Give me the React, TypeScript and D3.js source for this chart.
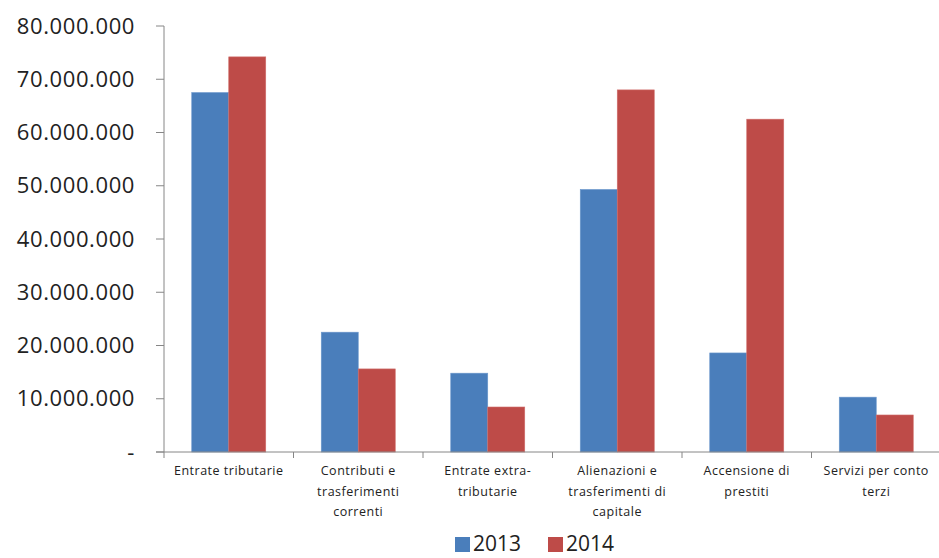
import React from "react";
import * as d3 from "d3";

const categories: string[][] = [
  ["Entrate tributarie"],
  ["Contributi e", "trasferimenti", "correnti"],
  ["Entrate extra-", "tributarie"],
  ["Alienazioni e", "trasferimenti di", "capitale"],
  ["Accensione di", "prestiti"],
  ["Servizi per conto", "terzi"],
];
const series2013: number[] = [67500000, 22500000, 14800000, 49300000, 18600000, 10300000];
const series2014: number[] = [74200000, 15600000, 8450000, 68000000, 62500000, 6950000];
const seriesNames: string[] = ["2013", "2014"];
const yTicks: number[] = [0, 10000000, 20000000, 30000000, 40000000, 50000000, 60000000, 70000000, 80000000];

const colors = ["#4A7EBB", "#BE4B48"];

export default function App() {
  const W = 939, H = 558;
  const left = 164, right = 941, top = 26, bottom = 452;
  const x = d3.scaleBand<number>().domain(d3.range(categories.length)).range([left, right]).paddingInner(0).paddingOuter(0);
  const y = d3.scaleLinear().domain([0, 80000000]).range([bottom, top]);
  const bw = x.bandwidth() / 3.5;
  const fmt = (v: number) => (v === 0 ? "-" : d3.format(",")(v).replace(/,/g, "."));
  const data = [series2013, series2014];
  const font = "'Open Sans', 'Liberation Sans', sans-serif";

  return (
    <svg width={W} height={H} style={{ position: "absolute", left: 0, top: 0, background: "#fff" }}>
      {data.map((s, si) =>
        s.map((v, i) => {
          const cx = (x(i) as number) + x.bandwidth() / 2;
          const x0 = cx - bw + si * bw;
          return (
            <rect key={`${si}-${i}`} x={x0} y={y(v)} width={bw} height={bottom - y(v)} fill={colors[si]} stroke={si === 0 ? "#6b97cc" : "#cf6d6a"} strokeWidth={0.6} />
          );
        })
      )}
      <line x1={left} x2={left} y1={top} y2={bottom} stroke="#868686" strokeWidth={1} />
      {yTicks.map((t) => (
        <g key={t}>
          <line x1={left - 8} x2={left} y1={y(t)} y2={y(t)} stroke="#868686" />
          <text x={135} y={y(t)} dy="0.35em" textAnchor="end" fontFamily={font} fontSize={22} letterSpacing={0.6} fill="#222">
            {fmt(t)}
          </text>
        </g>
      ))}
      <line x1={left - 8} x2={W} y1={bottom} y2={bottom} stroke="#868686" strokeWidth={1} />
      {categories.map((c, i) => (
        <g key={i}>
          <line x1={x(i) as number} x2={x(i) as number} y1={bottom} y2={bottom + 6} stroke="#868686" />
          {c.map((line, li) => (
            <text key={li} x={(x(i) as number) + x.bandwidth() / 2} y={475 + li * 20.5} textAnchor="middle" fontFamily={font} fontSize={12.5} letterSpacing={0.5} fill="#222">
              {line}
            </text>
          ))}
        </g>
      ))}
      {seriesNames.map((n, i) => (
        <g key={n} transform={`translate(${455 + i * 93},0)`}>
          <rect x={0} y={537} width={15} height={15} fill={colors[i]} />
          <text x={18} y={551} fontFamily={font} fontSize={21} fill="#222">{n}</text>
        </g>
      ))}
    </svg>
  );
}
